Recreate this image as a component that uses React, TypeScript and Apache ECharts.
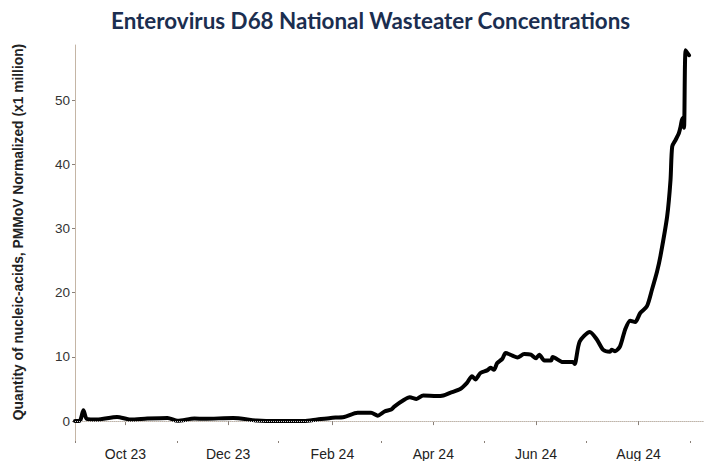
import React, { useEffect, useRef } from "react";
import * as echarts from "echarts";

const TITLE = "Enterovirus D68 National Wasteater Concentrations";
const Y_NAME = "Quantity of nucleic-acids, PMMoV Normalized (x1 million)";

const dates: string[] = [
  "2023-09-01", "2023-09-04", "2023-09-06", "2023-09-08", "2023-09-14", "2023-09-26",
  "2023-10-04", "2023-10-14", "2023-10-26", "2023-11-01", "2023-11-11", "2023-11-17",
  "2023-12-04", "2023-12-18", "2023-12-30", "2024-01-15", "2024-01-23", "2024-01-31",
  "2024-02-08", "2024-02-16", "2024-02-24", "2024-02-28", "2024-03-03", "2024-03-07",
  "2024-03-09", "2024-03-14", "2024-03-18", "2024-03-22", "2024-03-26", "2024-04-03",
  "2024-04-07", "2024-04-11", "2024-04-17", "2024-04-21", "2024-04-24", "2024-04-26",
  "2024-04-29", "2024-05-03", "2024-05-05", "2024-05-07", "2024-05-09", "2024-05-12",
  "2024-05-14", "2024-05-18", "2024-05-21", "2024-05-25", "2024-05-29", "2024-06-01",
  "2024-06-03", "2024-06-06", "2024-06-10", "2024-06-11", "2024-06-17", "2024-06-23",
  "2024-06-24", "2024-06-27", "2024-07-03", "2024-07-07", "2024-07-11", "2024-07-15",
  "2024-07-16", "2024-07-18", "2024-07-21", "2024-07-24", "2024-07-27", "2024-07-30",
  "2024-08-02", "2024-08-06", "2024-08-09", "2024-08-12", "2024-08-14", "2024-08-18",
  "2024-08-20", "2024-08-21", "2024-08-23", "2024-08-25", "2024-08-26", "2024-08-27",
  "2024-08-28", "2024-08-29", "2024-08-31",
];

const values: number[] = [
  0.0, 0.1, 1.7, 0.35, 0.25, 0.65,
  0.25, 0.4, 0.5, 0.05, 0.4, 0.35,
  0.5, 0.1, 0.0, 0.0, 0.25, 0.5,
  0.65, 1.3, 1.3, 0.85, 1.5, 1.8,
  2.3, 3.2, 3.7, 3.45, 4.0, 3.9,
  4.0, 4.4, 5.0, 5.95, 7.0, 6.5,
  7.5, 7.9, 8.3, 8.0, 9.05, 9.7,
  10.6, 10.2, 9.9, 10.45, 10.35, 9.8,
  10.35, 9.45, 9.45, 10.0, 9.2, 9.2,
  8.9, 12.4, 13.9, 12.8, 11.1, 10.8,
  11.1, 10.9, 11.65, 14.25, 15.65, 15.45,
  16.85, 17.9, 20.5, 23.3, 25.7, 31.9,
  37.6, 42.8, 43.8, 44.9, 45.9, 47.2,
  45.7, 57.8, 57.0,
];

const majorTickDates: string[] = ["2023-10-01", "2023-12-01", "2024-02-01", "2024-04-01", "2024-06-01", "2024-08-01"];
const majorTickLabels: string[] = ["Oct 23", "Dec 23", "Feb 24", "Apr 24", "Jun 24", "Aug 24"];
const minorTickDates: string[] = ["2023-09-01", "2023-11-01", "2023-12-31", "2024-03-01", "2024-05-01", "2024-07-01", "2024-09-01"];
const yTicks: number[] = [0, 10, 20, 30, 40, 50];

const X_MIN = "2023-09-01";
const X_MAX_DAYS_AFTER_SEP_2024 = 7.9;
const Y_MIN = -3.1;
const Y_MAX = 58.6;

const DAY = 86400000;
function ts(s: string): number {
  const [y, m, d] = s.split("-").map(Number);
  return Date.UTC(y, m - 1, d);
}

export default function App() {
  const ref = useRef<HTMLDivElement>(null);
  useEffect(() => {
    if (!ref.current) return;
    const chart = echarts.init(ref.current, undefined, { renderer: "svg" });
    const majorTs = majorTickDates.map(ts);
    const minorTs = minorTickDates.map(ts);
    const xMin = ts(X_MIN);
    const xMax = ts("2024-09-01") + X_MAX_DAYS_AFTER_SEP_2024 * DAY;
    const axisColor = "#c4b5a5";
    const tickColor = "#8a8078";
    const labelFont = "'Liberation Sans', Arial, sans-serif";
    chart.setOption({
      animation: false,
      backgroundColor: "#ffffff",
      title: {
        text: TITLE,
        left: 106,
        top: 4,
        textStyle: {
          fontFamily: "Lato, sans-serif",
          fontWeight: "bold",
          fontSize: 22.4,
          color: "#1b2e50",
        },
      },
      grid: { left: 75, right: 0, top: 45, bottom: 19.5, containLabel: false },
      xAxis: [
        {
          type: "value",
          min: xMin,
          max: xMax,
          position: "bottom",
          axisLine: { show: true, lineStyle: { color: axisColor, width: 1 } },
          axisTick: { show: true, length: 4, customValues: majorTs, lineStyle: { color: tickColor } },
          axisLabel: {
            show: true,
            customValues: majorTs,
            margin: 6,
            fontFamily: labelFont,
            fontSize: 14,
            color: "#222",
            formatter: (v: number) => {
              const i = majorTs.findIndex((t) => Math.abs(t - v) < DAY / 2);
              return i >= 0 ? majorTickLabels[i] : "";
            },
          },
          splitLine: { show: false },
        },
        {
          type: "value",
          min: xMin,
          max: xMax,
          position: "bottom",
          axisLine: { show: false },
          axisTick: { show: true, length: 2, customValues: minorTs, lineStyle: { color: tickColor } },
          axisLabel: { show: false },
          splitLine: { show: false },
        },
      ],
      yAxis: {
        type: "value",
        min: Y_MIN,
        max: Y_MAX,
        name: Y_NAME,
        nameLocation: "middle",
        nameGap: 50,
        nameRotate: 90,
        nameTextStyle: {
          fontFamily: labelFont,
          fontWeight: "bold",
          fontSize: 13.8,
          color: "#222",
          padding: [0, 0, 0, 22],
        },
        axisLine: { show: true, lineStyle: { color: axisColor, width: 1 } },
        axisTick: { show: true, length: 3, customValues: yTicks, lineStyle: { color: tickColor } },
        axisLabel: {
          show: true,
          customValues: yTicks,
          margin: 5,
          fontFamily: labelFont,
          fontSize: 13.5,
          color: "#333",
        },
        splitLine: { show: false },
      },
      series: [
        {
          type: "line",
          xAxisIndex: 0,
          data: dates.map((d, i) => [ts(d), values[i]]),
          showSymbol: false,
          smooth: 0.25,
          lineStyle: { color: "#000", width: 4, join: "round", cap: "round" },
          markLine: {
            silent: true,
            symbol: "none",
            label: { show: false },
            lineStyle: { color: "#cfcfcf", type: "dotted", width: 1 },
            data: [{ yAxis: 0 }],
          },
          z: 3,
        },
      ],
    });
    return () => chart.dispose();
  }, []);
  return (
    <div
      ref={ref}
      style={{ position: "fixed", left: 0, top: 0, width: 704, height: 461, background: "#fff" }}
    />
  );
}
